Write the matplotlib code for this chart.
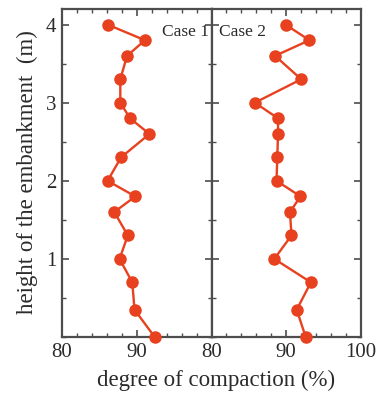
import matplotlib
matplotlib.use("Agg")
import matplotlib.pyplot as plt
from matplotlib.ticker import MultipleLocator, FixedLocator

heights = [4.0, 3.8, 3.6, 3.3, 3.0, 2.8, 2.6, 2.3, 2.0, 1.8, 1.6, 1.3, 1.0, 0.7, 0.35, 0.0]
case1 = [86.1, 91.1, 88.7, 87.8, 87.8, 89.1, 91.7, 87.9, 86.1, 89.8, 87.0, 88.8, 87.7, 89.4, 89.7, 92.4]
case2 = [89.9, 93.1, 88.5, 92.0, 85.8, 88.9, 88.9, 88.8, 88.7, 91.9, 90.5, 90.7, 88.4, 93.3, 91.4, 92.6]
case_labels = ["Case 1", "Case 2"]
xtick_sets = [[80, 90], [80, 90, 100]]
yticks = [1, 2, 3, 4]

plt.rcParams["font.family"] = ["Liberation Serif", "DejaVu Serif"]

red = "#e8411f"
frame = "#4d4d4d"
txt = "#2b2b2b"

fig = plt.figure(figsize=(3.79, 4.01), dpi=100)
L, R, B, T = 0.1636, 0.9525, 0.1596, 0.9776
w = (R - L) / 2
axes = [fig.add_axes([L, B, w, T - B]), fig.add_axes([L + w, B, w, T - B])]

for i, (ax, vals) in enumerate(zip(axes, [case1, case2])):
    ax.plot(vals, heights, "-o", color=red, lw=1.7, ms=8, mec=red, clip_on=False, zorder=3)
    ax.set_xlim(80, 100)
    ax.set_ylim(0, 4.2)
    ax.xaxis.set_major_locator(FixedLocator(xtick_sets[i]))
    ax.xaxis.set_minor_locator(MultipleLocator(2))
    ax.yaxis.set_major_locator(FixedLocator(yticks))
    ax.yaxis.set_minor_locator(MultipleLocator(0.5))
    ax.tick_params(which="both", direction="in", top=True, right=True, color=frame,
                   labelcolor=txt, labelsize=15)
    ax.tick_params(which="major", length=5, width=1.2, pad=4)
    ax.tick_params(which="minor", length=3, width=1.0)
    for s in ax.spines.values():
        s.set_color(frame)
        s.set_linewidth(1.6)
    if i == 1:
        ax.tick_params(axis="y", labelleft=False)

axes[0].text(0.985, 0.93, case_labels[0], transform=axes[0].transAxes, ha="right", va="center",
             fontsize=12.5, color=txt)
axes[1].text(0.05, 0.93, case_labels[1], transform=axes[1].transAxes, ha="left", va="center",
             fontsize=12.5, color=txt)

fig.text(27 / 379, 0.571, "height of the embankment  (m)", rotation=90, ha="center",
         va="center", fontsize=16.5, color=txt)
fig.text(216 / 379, 0.052, "degree of compaction (%)", ha="center", va="center",
         fontsize=16.5, color=txt)

fig.savefig("out.png", dpi=100)
